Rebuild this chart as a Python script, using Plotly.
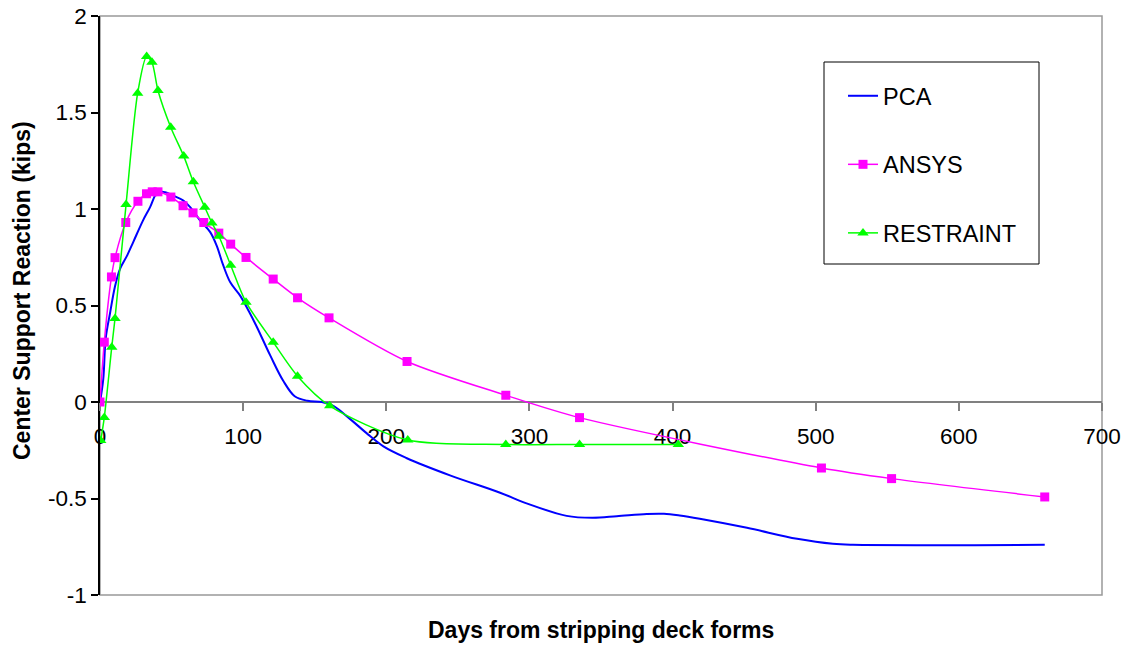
import plotly.graph_objects as go

# ---- data ----
pca_days = [0, 2.3, 4, 7, 10.5, 14, 19, 23.3, 30, 35, 38.5, 41, 45.5, 51, 58, 63, 70, 77, 81.5,
            86, 91, 98, 104, 109.5, 119, 128, 136, 145, 155, 163, 175, 186, 198, 214, 244.5,
            279.5, 298, 326, 344, 361, 382, 394, 405, 419, 452, 487, 512, 526, 660]
pca_vals = [0, 0.12, 0.33, 0.46, 0.60, 0.69, 0.76, 0.83, 0.94, 1.01, 1.07, 1.09, 1.087, 1.07, 1.045,
            1.01, 0.94, 0.88, 0.81, 0.71, 0.62, 0.55, 0.47, 0.39, 0.24, 0.11, 0.03, 0.006, 0.0,
            -0.02, -0.09, -0.16, -0.23, -0.29, -0.38, -0.47, -0.525, -0.59, -0.60, -0.592,
            -0.58, -0.579, -0.588, -0.605, -0.652, -0.709, -0.735, -0.74, -0.74]

ansys_days = [0, 3, 8, 10.5, 18, 26.5, 32.5, 36.5, 40.5, 49.5, 58, 65, 72.5, 83, 91.3, 102,
              121, 138, 160, 214.5, 283.5, 335, 504, 553, 660]
ansys_vals = [0, 0.31, 0.648, 0.748, 0.93, 1.04, 1.079, 1.089, 1.089, 1.062, 1.017, 0.98, 0.93,
              0.875, 0.818, 0.749, 0.637, 0.54, 0.436, 0.21, 0.035, -0.081, -0.342, -0.397, -0.492]

restraint_days = [0.5, 3, 8.2, 10.5, 18.2, 26.3, 32.6, 36.3, 40.5, 49.4, 58.5, 65.2, 73.2, 78.2,
                  83.1, 91.3, 102, 121, 138, 160.5, 215, 283.5, 335, 404]
restraint_vals = [-0.2, -0.08, 0.284, 0.433, 1.023, 1.60, 1.79, 1.76, 1.614, 1.424, 1.274, 1.141,
                  1.009, 0.928, 0.859, 0.709, 0.517, 0.31, 0.134, -0.02, -0.197, -0.22, -0.22, -0.22]

x_ticks = [0, 100, 200, 300, 400, 500, 600, 700]
y_ticks = [-1, -0.5, 0, 0.5, 1, 1.5, 2]
y_tick_text = ["-1", "-0.5", "0", "0.5", "1", "1.5", "2"]

FONT = "Liberation Sans, Arial, sans-serif"

W, H = 1127, 646
pl, pt, pr, pb = 100, 16, 1102, 595          # plot area in page pixels
pw, ph = pr - pl, pb - pt


def px(xp):
    return (xp - pl) / pw


def py(yp):
    return 1 - (yp - pt) / ph


fig = go.Figure()
fig.add_trace(go.Scatter(x=pca_days, y=pca_vals, name="PCA", mode="lines",
                         line=dict(color="#0000FF", width=2, shape="spline", smoothing=1),
                         legendgroup="a"))
fig.add_trace(go.Scatter(x=ansys_days, y=ansys_vals, name="ANSYS", mode="lines+markers",
                         line=dict(color="#FF00FF", width=1.5, shape="spline", smoothing=0.8),
                         marker=dict(symbol="square", size=9, color="#FF00FF"),
                         legendgroup="b"))
fig.add_trace(go.Scatter(x=restraint_days, y=restraint_vals, name="RESTRAINT", mode="lines+markers",
                         line=dict(color="#00FF00", width=1.5, shape="spline", smoothing=0.8),
                         marker=dict(symbol="triangle-up", size=10, color="#00FF00"),
                         legendgroup="c"))

# plot-area frame (gray)
fig.add_shape(type="rect", xref="paper", yref="paper", x0=0, y0=0, x1=1, y1=1,
              line=dict(color="#999999", width=1.5), layer="below")
# legend frame
fig.add_shape(type="rect", xref="paper", yref="paper",
              x0=px(824), x1=px(1039), y0=py(264), y1=py(62),
              line=dict(color="#000000", width=1), layer="above")

fig.update_layout(
    width=W, height=H, autosize=False,
    margin=dict(l=pl, r=W - pr, t=pt, b=H - pb, pad=0),
    paper_bgcolor="white", plot_bgcolor="white",
    font=dict(family=FONT, size=22, color="black"),
    showlegend=True,
    legend=dict(x=px(843), y=py(74), xanchor="left", yanchor="top",
                bgcolor="rgba(0,0,0,0)", borderwidth=0, tracegroupgap=35,
                font=dict(family=FONT, size=23.5), itemwidth=30),
    xaxis=dict(range=[0, 700], tickvals=x_ticks, anchor="free", position=1 / 3,
               showline=True, linecolor="#808080", linewidth=2, ticks="outside",
               ticklen=8, tickwidth=1.5, tickcolor="#808080", showgrid=False, zeroline=False,
               tickfont=dict(family=FONT, size=22.5), ticklabelstandoff=6,
               ticklabeloverflow="allow", layer="below traces", automargin=False),
    yaxis=dict(range=[-1, 2], tickvals=y_ticks, ticktext=y_tick_text,
               showline=True, linecolor="black", linewidth=1.5, ticks="outside",
               ticklen=7, tickwidth=1.5, tickcolor="black", showgrid=False, zeroline=False,
               tickfont=dict(family=FONT, size=22.5), ticklabeloverflow="allow",
               layer="below traces", automargin=False),
)

fig.add_annotation(text="<b>Days from stripping deck forms</b>", xref="paper", yref="paper",
                   x=px(601), y=py(630), showarrow=False,
                   font=dict(family=FONT, size=23), xanchor="center", yanchor="middle")
fig.add_annotation(text="<b>Center Support Reaction (kips)</b>", xref="paper", yref="paper",
                   x=px(22), y=py(291), showarrow=False, textangle=-90,
                   font=dict(family=FONT, size=23), xanchor="center", yanchor="middle")

fig.write_html("out.html", config={"displayModeBar": False},
               post_script="document.body.style.margin='0';document.body.style.overflow='hidden';")
